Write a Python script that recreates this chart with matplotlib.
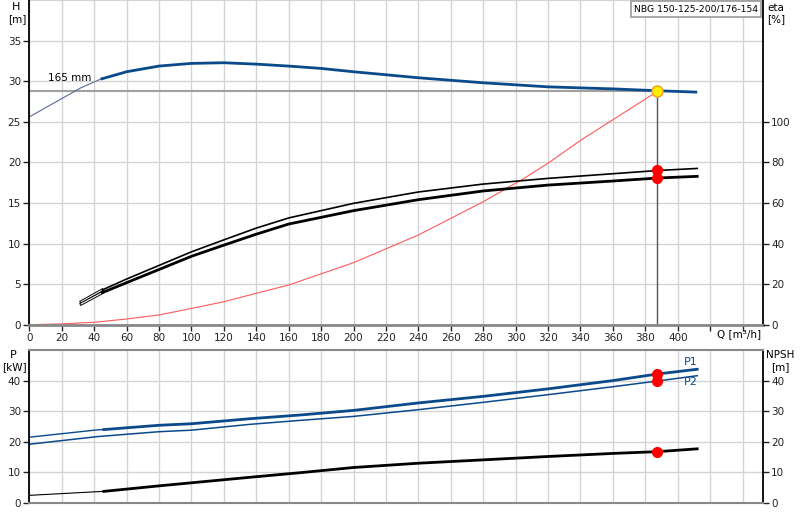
import numpy as np
import matplotlib
matplotlib.use("Agg")
import matplotlib.pyplot as plt

plt.rcParams['font.family'] = ['DejaVu Sans']
plt.rcParams['font.size'] = 7.5

# Head curve 165 mm impeller (thin start, thick working range)
q_h_thin = [0, 32, 44]
h_thin = [25.6, 29.2, 30.25]
q_h = [44, 60, 80, 100, 120, 140, 160, 180, 200, 240, 280, 320, 360, 388, 412]
h_vals = [30.25, 31.16, 31.86, 32.19, 32.27, 32.1, 31.86, 31.57, 31.16, 30.42, 29.8, 29.3, 29.05, 28.82, 28.65]

# system curve
q_sys = [0, 20, 40, 60, 80, 100, 120, 140, 160, 200, 240, 280, 305, 320, 340, 388]
h_sys = [0, 0.1, 0.3, 0.7, 1.2, 2.0, 2.83, 3.87, 4.89, 7.64, 11.05, 15.15, 18.0, 19.9, 22.7, 28.82]

# efficiency curves [%]
q_eta = [32, 45, 60, 80, 100, 120, 140, 160, 200, 240, 280, 320, 360, 388, 412]
eta_upper = [11.3, 17.1, 22.5, 29.2, 35.9, 41.8, 47.6, 52.6, 59.8, 65.4, 69.3, 72.1, 74.4, 76.0, 77.0]
eta_lower = [10.2, 15.8, 20.7, 27.2, 33.7, 39.2, 44.6, 49.6, 56.2, 61.6, 65.9, 68.8, 70.8, 72.3, 73.1]

# power and NPSH
q_p_thin = [0, 42, 46]
p1_thin = [21.5, 23.9, 24.0]
npsh_thin = [2.5, 3.7, 3.8]
q_p = [46, 80, 100, 136, 167, 200, 240, 280, 320, 360, 388, 412]
p1_vals = [24.0, 25.4, 25.9, 27.54, 28.75, 30.26, 32.7, 34.85, 37.3, 40.0, 42.2, 43.7]
npsh_vals = [3.8, 5.6, 6.6, 8.4, 9.9, 11.6, 13.0, 14.1, 15.2, 16.2, 16.8, 17.7]
q_p2 = [0, 42, 80, 100, 136, 167, 200, 240, 280, 320, 360, 388, 412]
p2_vals = [19.2, 21.7, 23.3, 23.8, 25.7, 27.0, 28.3, 30.5, 32.9, 35.4, 38.0, 39.9, 41.6]

# duty point
q_op = 387.5
h_op = 28.82
eta_op = [76.0, 72.3]
p_op = [42.2, 39.9, 16.8]

x_ticks = list(range(0, 401, 20))
blue = '#0b4a8a'
grid_c = '#d4d4d4'

fig = plt.figure(figsize=(8, 5.2), dpi=100)
ax = fig.add_axes([29.3/800, 1-324.7/520, 733.4/800, 324.7/520])
ax2 = fig.add_axes([29.3/800, 1-503/520, 733.4/800, 153/520])

for a in (ax, ax2):
    a.set_xlim(0, 452.4)
    a.set_xticks(range(0, 441, 20))
    a.grid(True, color=grid_c, lw=1)
    a.set_axisbelow(True)
    for s in ('left', 'right'):
        a.spines[s].set_color('black')
        a.spines[s].set_linewidth(1.3)
    a.tick_params(direction='out', length=4, width=1, colors='#222', pad=2)

# top panel
ax.set_ylim(0, 40)
ax.set_yticks(range(0, 36, 5))
ax.set_yticks([40], minor=True)
ax.yaxis.grid(True, which='minor', color=grid_c)
ax.tick_params(axis='y', which='minor', length=0)
ax.set_xticklabels([str(v) if v in x_ticks else '' for v in range(0, 441, 20)])
ax.spines['top'].set_visible(False)
ax.spines['bottom'].set_color('#888888')
ax.spines['bottom'].set_linewidth(2)

axe = ax.twinx()
axe.set_ylim(0, 160)
axe.set_yticks(range(0, 101, 20))
axe.tick_params(direction='out', length=4, width=1, colors='#222', pad=2)
for s in axe.spines.values():
    s.set_visible(False)

ax.plot(q_h_thin, h_thin, color='#5a6a94', lw=0.8)
ax.plot(q_h, h_vals, color=blue, lw=2, solid_capstyle='butt')
ax.plot(q_sys, h_sys, color='#ff5a5a', lw=0.8)
ax.plot([0, q_op], [h_op, h_op], color='#a0a0a0', lw=1.5, zorder=1.5)
ax.plot([q_op, q_op], [0, h_op], color='#555555', lw=1)
ax.text(11.5, 30.4, '165 mm', fontsize=7.5, va='center')

n0 = 2
axe.plot(q_eta[:n0], eta_upper[:n0], color='black', lw=2.2)
axe.plot(q_eta[:n0], eta_upper[:n0], color='white', lw=0.8)
axe.plot(q_eta[1:], eta_upper[1:], color='black', lw=1.2)
axe.plot(q_eta[:n0], eta_lower[:n0], color='black', lw=2.2)
axe.plot(q_eta[:n0], eta_lower[:n0], color='white', lw=0.8)
axe.plot(q_eta[1:], eta_lower[1:], color='black', lw=2)
axe.plot([q_op] * 2, eta_op, 'o', color='red', ms=7, zorder=5)
ax.plot(q_op, h_op, 'o', mfc='#ffee00', mec='#f0a020', mew=1, ms=8, zorder=6)

# bottom panel
ax2.set_ylim(0, 50)
ax2.set_yticks(range(0, 41, 10))
ax2.tick_params(axis='x', length=0, labelbottom=False)
ax2.tick_params(axis='y', right=True, labelright=True)
for s in ('top', 'bottom'):
    ax2.spines[s].set_color('#888888')
    ax2.spines[s].set_linewidth(1.5)

ax2.plot(q_p_thin, p1_thin, color=blue, lw=1)
ax2.plot(q_p, p1_vals, color=blue, lw=2)
ax2.plot(q_p2, p2_vals, color=blue, lw=1.1)
ax2.plot(q_p_thin, npsh_thin, color='black', lw=0.8)
ax2.plot(q_p, npsh_vals, color='black', lw=2)
ax2.plot([q_op] * 3, p_op, 'o', color='red', ms=7, zorder=5)
ax2.text(404, 46, 'P1', color=blue, fontsize=8, va='center')
ax2.text(404, 39.5, 'P2', color=blue, fontsize=8, va='center')

# axis labels
fig.text(16/800, 1-7/520, 'H', ha='center', va='center', fontsize=8)
fig.text(17/800, 1-19/520, '[m]', ha='center', va='center', fontsize=7.5)
fig.text(776/800, 1-8/520, 'eta', ha='center', va='center', fontsize=7.5)
fig.text(776/800, 1-19/520, '[%]', ha='center', va='center', fontsize=7.5)
fig.text(13/800, 1-355/520, 'P', ha='center', va='center', fontsize=8)
fig.text(14/800, 1-367/520, '[kW]', ha='center', va='center', fontsize=7.5)
fig.text(780/800, 1-355/520, 'NPSH', ha='center', va='center', fontsize=7.5)
fig.text(780/800, 1-367/520, '[m]', ha='center', va='center', fontsize=7.5)
fig.text(739/800, 1-334/520, 'Q [m\u00b3/h]', ha='center', va='center', fontsize=7.5)
fig.text(696/800, 1-9/520, 'NBG 150-125-200/176-154', ha='center', va='center', fontsize=6.7,
         bbox=dict(boxstyle='square,pad=0.35', fc='white', ec='#999999', lw=1.2))

fig.savefig('out.png', dpi=100)
